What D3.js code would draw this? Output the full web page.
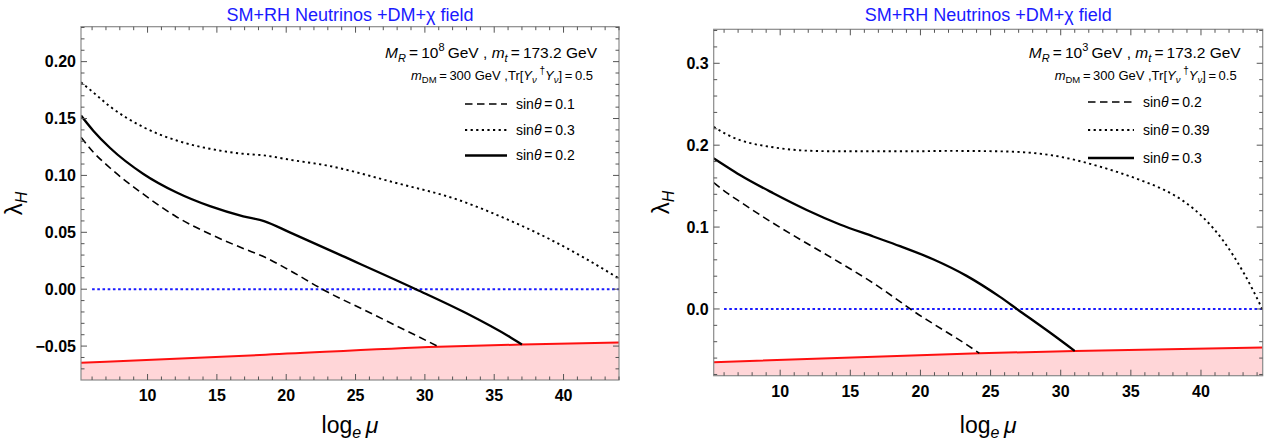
<!DOCTYPE html>
<html>
<head>
<meta charset="utf-8">
<script src="https://cdn.jsdelivr.net/npm/d3@7"></script>
<style>
  html, body { margin: 0; padding: 0; background: #fff; }
  svg text { font-family: "Liberation Sans", Arial, sans-serif; }
</style>
</head>
<body>
<svg id="fig" width="1273" height="443"></svg>
<script>
// ---- Data: running Higgs quartic coupling lambda_H vs log_e(mu) ----

// Left panel: M_R = 10^8 GeV
const leftXDomain = [5.2, 44];
const leftYDomain = [-0.0798, 0.2307];
const leftXTicks = [10, 15, 20, 25, 30, 35, 40];
const leftYTicks = [-0.05, 0.00, 0.05, 0.10, 0.15, 0.20];
const leftYTickLabels = ["\u22120.05", "0.00", "0.05", "0.10", "0.15", "0.20"];

const leftDashedMu  = [5.2, 6.1, 7.3, 9.7, 12.1, 14.5, 16.9, 18.4, 20.3, 22.6, 26.0, 29.0, 31.0];
const leftDashedLam = [0.1336, 0.1203, 0.1065, 0.0835, 0.0635, 0.0485, 0.0358, 0.0285, 0.0162, 0.0, -0.0205, -0.0385, -0.0506];

const leftDottedMu  = [5.2, 6.1, 7.3, 9.7, 12.1, 14.5, 16.9, 18.4, 20.3, 22.9, 27.7, 32.5, 36.1, 39.0, 41.5, 44.0];
const leftDottedLam = [0.1819, 0.1728, 0.1605, 0.1424, 0.1307, 0.1234, 0.1190, 0.1176, 0.1137, 0.1088, 0.0941, 0.0781, 0.0605, 0.0440, 0.0275, 0.0094];

const leftSolidMu  = [5.2, 6.1, 7.3, 9.7, 12.1, 14.5, 16.9, 18.4, 20.3, 24.0, 29.35, 33.0, 36.1, 37.0];
const leftSolidLam = [0.1526, 0.1391, 0.1241, 0.1013, 0.0850, 0.0730, 0.0641, 0.0599, 0.0497, 0.0295, 0.0, -0.0212, -0.0418, -0.0486];

const leftBoundMu  = [5.2, 18.1, 31.0, 37.0, 44.0];
const leftBoundLam = [-0.0646, -0.0578, -0.0506, -0.0486, -0.0468];

const leftLegend = ["0.1", "0.3", "0.2"];
const leftMR = "8";

// Right panel: M_R = 10^3 GeV
const rightXDomain = [5.26, 44.4];
const rightYDomain = [-0.0815, 0.3415];
const rightXTicks = [10, 15, 20, 25, 30, 35, 40];
const rightYTicks = [0.0, 0.1, 0.2, 0.3];
const rightYTickLabels = ["0.0", "0.1", "0.2", "0.3"];

const rightDashedMu  = [5.26, 6.2, 7.13, 9.51, 11.89, 14.26, 16.64, 18.54, 19.27, 20.9, 23.29, 24.2];
const rightDashedLam = [0.1542, 0.1418, 0.1310, 0.1046, 0.0802, 0.0565, 0.0315, 0.0090, 0.0, -0.0180, -0.0435, -0.0541];

const rightDottedMu  = [5.26, 6.2, 7.13, 9.51, 11.89, 14.26, 19.25, 22.0, 25.67, 29.23, 32.8, 35.8, 37.3, 38.73, 40.2, 41.6, 43.08, 44.4];
const rightDottedLam = [0.2225, 0.2130, 0.2063, 0.1974, 0.1933, 0.1925, 0.1925, 0.1930, 0.1925, 0.1880, 0.1738, 0.1565, 0.1460, 0.1320, 0.1110, 0.0830, 0.0430, -0.001];

const rightSolidMu  = [5.26, 6.19, 7.13, 9.51, 11.89, 14.26, 16.64, 18.54, 20.9, 23.29, 25.67, 26.97, 29.23, 31.0];
const rightSolidLam = [0.1840, 0.1737, 0.1636, 0.1413, 0.1209, 0.1032, 0.0885, 0.0767, 0.0607, 0.0404, 0.0147, -0.0012, -0.0288, -0.0513];

const rightBoundMu  = [5.26, 24.2, 31.0, 44.4];
const rightBoundLam = [-0.0650, -0.0541, -0.0513, -0.0472];

const rightLegend = ["0.2", "0.39", "0.3"];
const rightMR = "3";

const titleText = "SM+RH Neutrinos +DM+\u03c7  field";

// ---- Drawing ----
const svg = d3.select("#fig");
const zip = (xs, ys) => xs.map((x, i) => [x, ys[i]]);

function drawPanel(p) {
  const g = svg.append("g");
  const x = d3.scaleLinear().domain(p.xDomain).range([p.left, p.right]);
  const y = d3.scaleLinear().domain(p.yDomain).range([p.bottom, p.top]);
  const clipId = "clip-" + p.id;
  svg.append("defs").append("clipPath").attr("id", clipId)
    .append("rect").attr("x", p.left).attr("y", p.top)
    .attr("width", p.right - p.left).attr("height", p.bottom - p.top);

  const plot = g.append("g").attr("clip-path", `url(#${clipId})`);
  const line = d3.line().x(d => x(d[0])).y(d => y(d[1])).curve(d3.curveMonotoneX);

  // excluded region below the vacuum-stability bound
  const bound = zip(p.boundMu, p.boundLam);
  const area = d3.area().x(d => x(d[0])).y0(p.bottom + 2).y1(d => y(d[1])).curve(d3.curveMonotoneX);
  plot.append("path").attr("d", area(bound)).attr("fill", "#ffd6d8");
  plot.append("path").attr("d", line(bound)).attr("fill", "none")
    .attr("stroke", "#ff1010").attr("stroke-width", 2);

  // lambda_H = 0 reference
  plot.append("line").attr("x1", x(6)).attr("x2", p.right).attr("y1", y(0)).attr("y2", y(0))
    .attr("stroke", "#1a1aff").attr("stroke-width", 2).attr("stroke-dasharray", "2.6,2.6");

  const styles = {
    dashed: { w: 1.6, dash: "7.5,4.5" },
    dotted: { w: 1.9, dash: "2.2,3.4" },
    solid:  { w: 2.3, dash: null }
  };
  const curves = [
    ["dashed", zip(p.dashedMu, p.dashedLam)],
    ["dotted", zip(p.dottedMu, p.dottedLam)],
    ["solid",  zip(p.solidMu, p.solidLam)]
  ];
  curves.forEach(([k, pts]) => {
    plot.append("path").attr("d", line(pts)).attr("fill", "none")
      .attr("stroke", "#000").attr("stroke-width", styles[k].w)
      .attr("stroke-dasharray", styles[k].dash);
  });

  // frame
  g.append("rect").attr("x", p.left).attr("y", p.top)
    .attr("width", p.right - p.left).attr("height", p.bottom - p.top)
    .attr("fill", "none").attr("stroke", "#8a8a8a").attr("stroke-width", 1.2);

  // ticks on all four sides, pointing inward
  const tk = g.append("g").attr("stroke", "#555").attr("stroke-width", 1);
  const xMinor = d3.range(Math.ceil(p.xDomain[0]), p.xDomain[1] + 1e-9, 1);
  xMinor.forEach(v => {
    const major = p.xTicks.includes(v);
    const L = major ? 6 : 3.5;
    tk.append("line").attr("x1", x(v)).attr("x2", x(v)).attr("y1", p.bottom).attr("y2", p.bottom - L);
    tk.append("line").attr("x1", x(v)).attr("x2", x(v)).attr("y1", p.top).attr("y2", p.top + L);
  });
  const yMinorStep = p.yMinor;
  const yStart = Math.ceil(p.yDomain[0] / yMinorStep - 1e-9);
  const yEnd = Math.floor(p.yDomain[1] / yMinorStep + 1e-9);
  for (let i = yStart; i <= yEnd; i++) {
    const v = i * yMinorStep;
    const major = p.yTicks.some(t => Math.abs(t - v) < 1e-9);
    const L = major ? 6 : 3.5;
    tk.append("line").attr("x1", p.left).attr("x2", p.left + L).attr("y1", y(v)).attr("y2", y(v));
    tk.append("line").attr("x1", p.right).attr("x2", p.right - L).attr("y1", y(v)).attr("y2", y(v));
  }

  // tick labels
  g.selectAll(".xl").data(p.xTicks).enter().append("text")
    .attr("x", d => x(d)).attr("y", p.bottom + 21)
    .attr("text-anchor", "middle").attr("font-size", 16).attr("font-weight", "bold")
    .text(d => d);
  g.selectAll(".yl").data(p.yTicks).enter().append("text")
    .attr("x", p.left - 5).attr("y", d => y(d)).attr("dy", "0.35em")
    .attr("text-anchor", "end").attr("font-size", 16).attr("font-weight", "bold")
    .text((d, i) => p.yTickLabels[i]);

  // axis titles
  const cx = (p.left + p.right) / 2;
  const xt = g.append("text").attr("x", cx).attr("y", 433).attr("text-anchor", "middle").attr("font-size", 23);
  xt.append("tspan").text("log");
  xt.append("tspan").attr("font-size", 16).attr("font-style", "italic").attr("dy", 5).text("e");
  xt.append("tspan").attr("dy", -5).attr("font-style", "italic").text("\u2009\u03bc");

  const yt = g.append("text").attr("transform", `translate(${p.yLabelX},${(p.top + p.bottom) / 2}) rotate(-90)`)
    .attr("text-anchor", "middle").attr("font-size", 24);
  yt.append("tspan").text("\u03bb");
  yt.append("tspan").attr("font-size", 16).attr("font-style", "italic").attr("dy", 5).text("H");

  // title
  g.append("text").attr("x", cx).attr("y", 21).attr("text-anchor", "middle")
    .attr("font-size", 18).attr("fill", "#1a1aff").text(titleText);

  // parameter annotations
  const a1 = g.append("text").attr("x", p.right - 22).attr("y", 58).attr("text-anchor", "end").attr("font-size", 15.5);
  a1.append("tspan").attr("font-style", "italic").text("M");
  a1.append("tspan").attr("font-style", "italic").attr("font-size", 11).attr("dy", 4).text("R");
  a1.append("tspan").attr("dy", -4).text("\u2009=\u200910");
  a1.append("tspan").attr("font-size", 11).attr("dy", -7).text(p.mr);
  a1.append("tspan").attr("dy", 7).text("\u2009GeV , ");
  a1.append("tspan").attr("font-style", "italic").text("m");
  a1.append("tspan").attr("font-style", "italic").attr("font-size", 11).attr("dy", 4).text("t");
  a1.append("tspan").attr("dy", -4).text("\u2009=\u2009173.2  GeV");

  const a2 = g.append("text").attr("x", p.right - 26).attr("y", 80).attr("text-anchor", "end").attr("font-size", 13);
  a2.append("tspan").attr("font-style", "italic").text("m");
  a2.append("tspan").attr("font-size", 9.5).attr("dy", 3).text("DM");
  a2.append("tspan").attr("dy", -3).text("\u2009=\u2009300  GeV ,Tr[");
  a2.append("tspan").attr("font-style", "italic").text("Y");
  a2.append("tspan").attr("font-style", "italic").attr("font-size", 9.5).attr("dy", 3).text("\u03bd");
  a2.append("tspan").attr("font-size", 10).attr("dy", -9).text(" \u2020");
  a2.append("tspan").attr("dy", 6).attr("font-style", "italic").text("Y");
  a2.append("tspan").attr("font-style", "italic").attr("font-size", 9.5).attr("dy", 3).text("\u03bd");
  a2.append("tspan").attr("dy", -3).text("]\u2009=\u20090.5");

  // legend
  const keys = ["dashed", "dotted", "solid"];
  keys.forEach((k, i) => {
    const ly = p.legendY[i];
    g.append("line").attr("x1", p.legendX).attr("x2", p.legendX + p.legendLen)
      .attr("y1", ly).attr("y2", ly).attr("stroke", "#000")
      .attr("stroke-width", styles[k].w).attr("stroke-dasharray", styles[k].dash);
    const t = g.append("text").attr("x", p.legendX + p.legendLen + 9).attr("y", ly).attr("dy", "0.35em")
      .attr("font-size", 14);
    t.append("tspan").text("sin");
    t.append("tspan").attr("font-style", "italic").text("\u03b8");
    t.append("tspan").text("\u2009=\u2009" + p.legend[i]);
  });
}

drawPanel({
  id: "L", left: 81, right: 619, top: 26.7, bottom: 380,
  xDomain: leftXDomain, yDomain: leftYDomain, xTicks: leftXTicks,
  yTicks: leftYTicks, yTickLabels: leftYTickLabels, yMinor: 0.01,
  dashedMu: leftDashedMu, dashedLam: leftDashedLam,
  dottedMu: leftDottedMu, dottedLam: leftDottedLam,
  solidMu: leftSolidMu, solidLam: leftSolidLam,
  boundMu: leftBoundMu, boundLam: leftBoundLam,
  legend: leftLegend, mr: leftMR,
  legendX: 465, legendLen: 42, legendY: [104, 130, 155.5],
  yLabelX: 22
});

drawPanel({
  id: "R", left: 713.7, right: 1262.7, top: 29.3, bottom: 375.7,
  xDomain: rightXDomain, yDomain: rightYDomain, xTicks: rightXTicks,
  yTicks: rightYTicks, yTickLabels: rightYTickLabels, yMinor: 0.02,
  dashedMu: rightDashedMu, dashedLam: rightDashedLam,
  dottedMu: rightDottedMu, dottedLam: rightDottedLam,
  solidMu: rightSolidMu, solidLam: rightSolidLam,
  boundMu: rightBoundMu, boundLam: rightBoundLam,
  legend: rightLegend, mr: rightMR,
  legendX: 1088, legendLen: 46, legendY: [102, 130, 158],
  yLabelX: 669
});
</script>
</body>
</html>
